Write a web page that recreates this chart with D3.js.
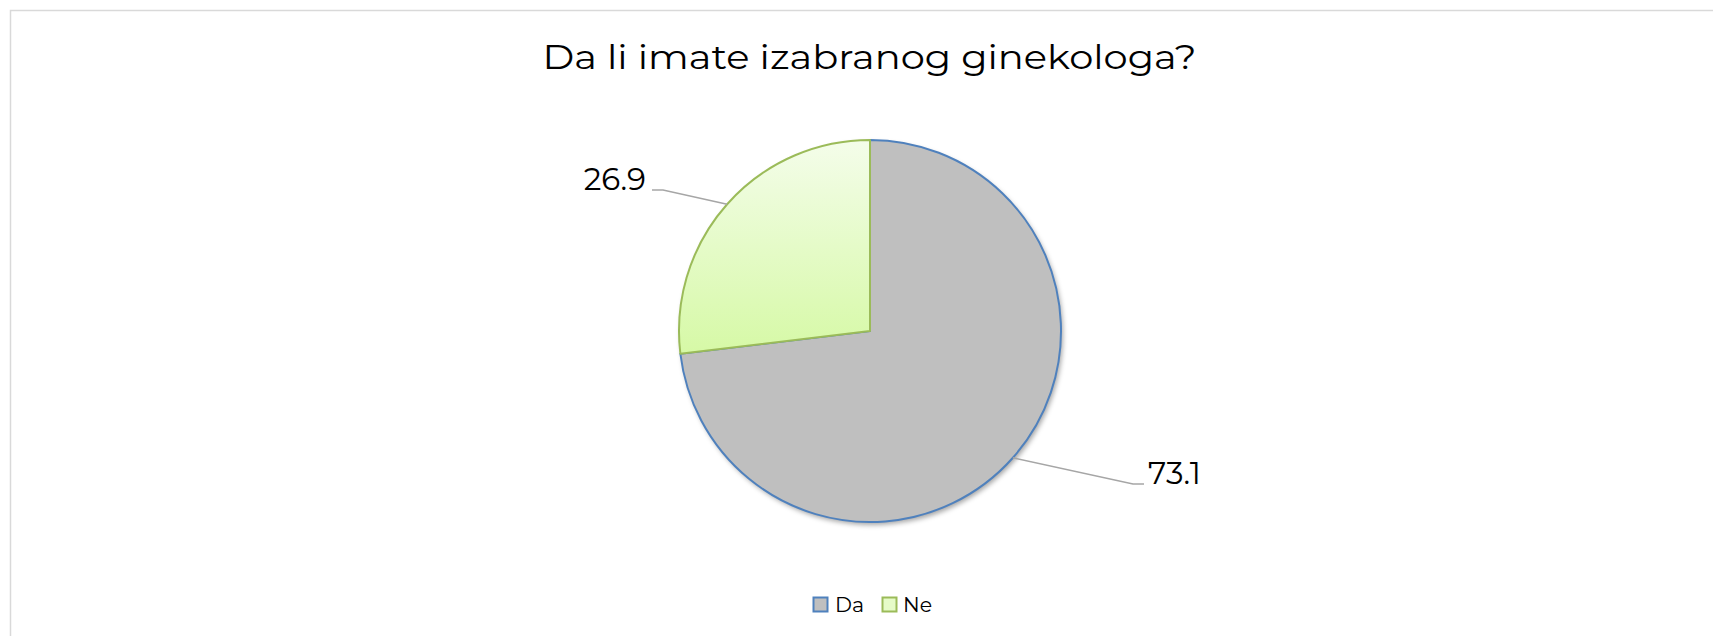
<!DOCTYPE html>
<html><head><meta charset="utf-8">
<script src="https://cdn.jsdelivr.net/npm/d3@7"></script>
<style>html,body{margin:0;padding:0;background:#fff;}svg{display:block;}</style>
</head><body>
<script>
const title = "Da li imate izabranog ginekologa?";
const categories = ["Da", "Ne"];
const values = [73.1, 26.9];
const labels = ["73.1", "26.9"];

const W = 1713, H = 636;
const font = "Montserrat, 'Open Sans', 'Noto Sans', sans-serif";
const svg = d3.select("body").append("svg").attr("width", W).attr("height", H);
const defs = svg.append("defs");
const grad = defs.append("linearGradient").attr("id", "gNe").attr("x1", 0).attr("y1", 0).attr("x2", 0).attr("y2", 1);
grad.append("stop").attr("offset", "0%").attr("stop-color", "#f4fdea");
grad.append("stop").attr("offset", "100%").attr("stop-color", "#d6f9a6");
const f = defs.append("filter").attr("id", "sh").attr("x", "-20%").attr("y", "-20%").attr("width", "140%").attr("height", "140%");
f.append("feDropShadow").attr("dx", 2).attr("dy", 3).attr("stdDeviation", 2.5).attr("flood-color", "#000").attr("flood-opacity", 0.35);

svg.append("rect").attr("x", 10.5).attr("y", 10.5).attr("width", W).attr("height", H)
  .attr("fill", "#fff").attr("stroke", "#d9d9d9").attr("stroke-width", 1.5);

svg.append("text").attr("x", 869.5).attr("y", 69).attr("text-anchor", "middle")
  .attr("font-family", font).attr("font-size", 34.5).attr("fill", "#000")
  .attr("textLength", 654).attr("lengthAdjust", "spacingAndGlyphs").text(title);

const cx = 870, cy = 331, r = 191;
const fills = ["#bfbfbf", "url(#gNe)"];
const strokes = ["#4f81bd", "#9bbb59"];
const pie = d3.pie().sort(null).value(d => d)(values);
const arc = d3.arc().innerRadius(0).outerRadius(r);
const g = svg.append("g").attr("transform", `translate(${cx},${cy})`);
g.append("circle").attr("r", r).attr("fill", "#bfbfbf").attr("filter", "url(#sh)");
g.selectAll("path.s").data(pie).join("path").attr("class", "s")
  .attr("d", arc).attr("fill", (d, i) => fills[i]).attr("stroke", (d, i) => strokes[i]).attr("stroke-width", 2)
  .attr("stroke-linejoin", "round");

// leader lines and labels
const outer = [
  { end: [1133 - cx, 484 - cy], tip: [1144 - cx, 484 - cy], tx: 1148 - cx, anchor: "start" },
  { end: [663 - cx, 190 - cy], tip: [652 - cx, 190 - cy], tx: 646 - cx, anchor: "end" }
];
pie.forEach((d, i) => {
  const a = (d.startAngle + d.endAngle) / 2;
  const p0 = [r * Math.sin(a), -r * Math.cos(a)];
  const o = outer[i];
  g.append("polyline").attr("points", [p0, o.end, o.tip].map(p => p.join(",")).join(" "))
    .attr("fill", "none").attr("stroke", "#a6a6a6").attr("stroke-width", 1.5);
  g.append("text").attr("x", o.tx).attr("y", o.tip[1]).attr("text-anchor", o.anchor)
    .attr("font-family", font).attr("font-size", 31).attr("fill", "#000").text(labels[i]);
});

// legend
const lg = svg.append("g");
const items = [{ x: 813, tx: 835 }, { x: 882, tx: 903 }];
categories.forEach((c, i) => {
  lg.append("rect").attr("x", items[i].x + 0.5).attr("y", 597.5).attr("width", 14).attr("height", 14)
    .attr("fill", i === 0 ? "#bfbfbf" : "#e6fbc8").attr("stroke", strokes[i]).attr("stroke-width", 2);
  lg.append("text").attr("x", items[i].tx).attr("y", 612).attr("font-family", font)
    .attr("font-size", 20.5).attr("fill", "#000").text(c);
});
</script>
</body></html>
